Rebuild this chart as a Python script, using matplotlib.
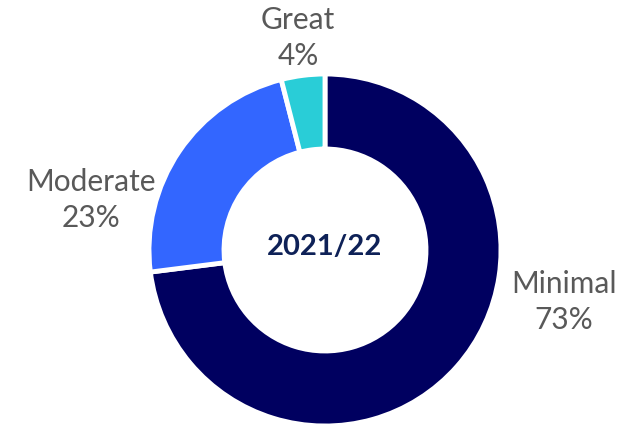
import matplotlib
matplotlib.use("Agg")
import matplotlib.pyplot as plt

# data
categories = ["Minimal", "Moderate", "Great"]
shares = [73, 23, 4]
colors = ["#000060", "#3366FF", "#29CDD7"]
center_label = "2021/22"

# label anchor points (pixels from top-left of the image)
label_pos = [(564, 302), (91, 200), (298, 38)]

W, H = 628, 427
cx, cy = 325, H - 251
r_out = 176
ring = 75

plt.rcParams["font.family"] = ["Lato", "DejaVu Sans"]

fig = plt.figure(figsize=(W / 100, H / 100), dpi=100)
ax = fig.add_axes([0, 0, 1, 1])

ax.pie(
    shares,
    colors=colors,
    startangle=90,
    counterclock=False,
    center=(cx, cy),
    radius=r_out,
    wedgeprops=dict(width=ring, edgecolor="white", linewidth=3.5),
)

for name, val, (px, py) in zip(categories, shares, label_pos):
    ax.text(px, H - py, f"{name}\n{val}%", ha="center", va="center",
            fontsize=21.5, color="#595959", linespacing=1.38)

ax.text(cx, cy + 4, center_label, ha="center", va="center",
        fontsize=21, fontweight="bold", color="#0E2157")

ax.set_xlim(0, W)
ax.set_ylim(0, H)
ax.set_aspect("auto")
ax.axis("off")

fig.savefig("out.png", dpi=100)
